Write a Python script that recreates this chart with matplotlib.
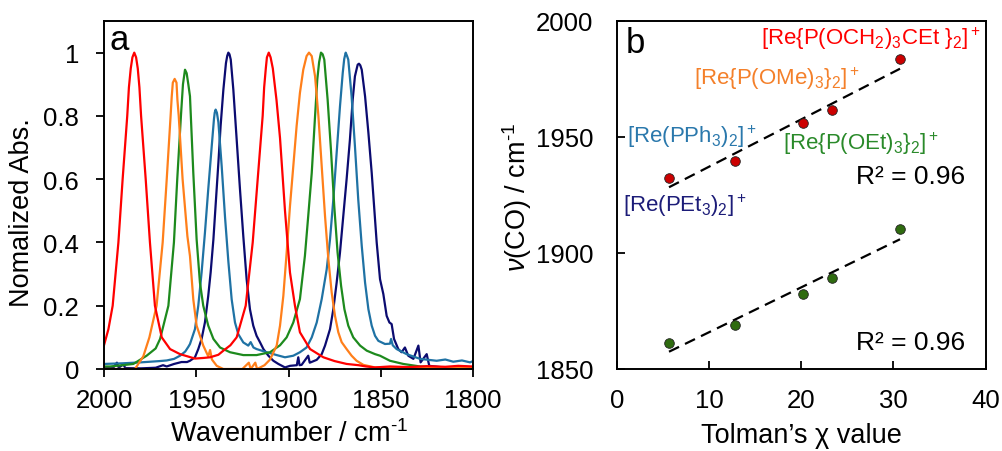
import numpy as np
import matplotlib
matplotlib.use("Agg")
import matplotlib.pyplot as plt

plt.rcParams['font.family'] = ['Liberation Sans', 'DejaVu Sans']
plt.rcParams['mathtext.fontset'] = 'custom'
plt.rcParams['mathtext.rm'] = 'Liberation Sans'
plt.rcParams['mathtext.it'] = 'Liberation Sans:italic'
plt.rcParams['mathtext.default'] = 'regular'

# ---- panel a: IR spectra ----
red_wn = [2000, 1997.6, 1995.3, 1992.2, 1989.9, 1987.4, 1986.5, 1985.5, 1984.6, 1983.6, 1982.6,
          1981.7, 1980.8, 1979.9, 1977.4, 1975.1, 1972.4, 1968.7, 1964.2, 1958.8, 1950.7, 1946,
          1942.5, 1938, 1935.3, 1931.5, 1928.1, 1923.2, 1919.4, 1916.7, 1914.0, 1913.2, 1912.3,
          1911.7, 1910.7, 1909.7, 1908.5, 1907.5, 1906.5, 1904.6, 1901.9, 1899.2, 1896.5, 1893.8,
          1888.3, 1881.1, 1875, 1868.5, 1862, 1858, 1853.1, 1845, 1835, 1825, 1815, 1808, 1800]
red_abs = [0.075, 0.126, 0.2, 0.4, 0.6, 0.8, 0.89, 0.95, 0.985, 1.0, 0.985,
           0.95, 0.89, 0.8, 0.6, 0.4, 0.2, 0.1, 0.063, 0.047, 0.033, 0.035,
           0.037, 0.045, 0.058, 0.075, 0.1, 0.2, 0.4, 0.6, 0.8, 0.89, 0.95,
           0.985, 1.0, 0.985, 0.95, 0.9, 0.85, 0.73, 0.5, 0.305, 0.2, 0.116,
           0.063, 0.037, 0.025, 0.016, 0.012, 0.008, 0.005, 0.008, 0.006, 0.009, 0.007, 0.01, 0.008]

orange_wn = [2000, 1990, 1983.2, 1978.7, 1975.4, 1971.5, 1968.2, 1966.0, 1963.9, 1963.3, 1962.7,
             1961.7, 1960.7, 1960.2, 1959.5, 1957.4, 1954.8, 1953.4, 1951.6, 1949.8, 1946.2, 1943.5,
             1942.5, 1941.5, 1938.9, 1935.3, 1925, 1921.5, 1920.5, 1918, 1917, 1913, 1910, 1906.4,
             1904.6, 1902.8, 1901, 1899.2, 1897.4, 1895.6, 1893.8, 1892, 1890.2, 1888.9, 1887.4,
             1885.6, 1883.8, 1882, 1880.2, 1878.4, 1876.6, 1874.8, 1873, 1871.2, 1868.5, 1865.8,
             1863.1, 1859.4, 1853.1, 1840, 1820, 1800]
orange_abs = [0, 0, 0, 0.04, 0.1, 0.2, 0.4, 0.6, 0.8, 0.86, 0.905,
              0.917, 0.905, 0.85, 0.8, 0.6, 0.42, 0.357, 0.22, 0.137, 0.074, 0.04,
              0.06, 0.03, 0.01, 0, 0, 0.02, 0, 0.02, 0, 0.012, 0.03, 0.074,
              0.137, 0.231, 0.368, 0.515, 0.641, 0.768, 0.873, 0.946, 0.989, 1.0, 0.989,
              0.925, 0.8, 0.641, 0.483, 0.347, 0.242, 0.168, 0.116, 0.085, 0.063, 0.042,
              0.026, 0.013, 0.005, 0.004, 0.003, 0.003]

green_wn = [2000, 1996.7, 1990, 1984.1, 1976.9, 1972, 1969.6, 1965.1, 1962.1, 1960.3, 1958.3,
            1957.2, 1956.1, 1955.2, 1954.3, 1953.4, 1951.6, 1949.8, 1948.0, 1946.2, 1943.5, 1940.7,
            1937.1, 1931.7, 1924.5, 1917.3, 1910, 1904.6, 1901, 1897.4, 1893.8, 1891.1, 1889.3,
            1887.4, 1885.6, 1884.4, 1883.4, 1882.4, 1881.5, 1880.6, 1878.8, 1877, 1875.2, 1873.4,
            1871.5, 1869.7, 1867.6, 1864.9, 1861.2, 1857.6, 1853.1, 1850.4, 1845, 1837.8, 1828.7,
            1819.7, 1800]
green_abs = [0.008, 0.008, 0.012, 0.016, 0.042, 0.065, 0.095, 0.2, 0.4, 0.6, 0.8,
             0.9, 0.946, 0.935, 0.9, 0.862, 0.62, 0.41, 0.273, 0.2, 0.137, 0.095,
             0.068, 0.053, 0.044, 0.044, 0.053, 0.075, 0.1, 0.147, 0.221, 0.358, 0.484,
             0.62, 0.8, 0.915, 0.97, 1.0, 0.995, 0.978, 0.852, 0.694, 0.515, 0.368,
             0.263, 0.189, 0.137, 0.1, 0.074, 0.058, 0.047, 0.042, 0.026, 0.016, 0.008,
             0.005, 0.004]

blue_wn = [2000, 1990, 1980, 1970, 1966, 1962, 1958.8, 1956, 1954.3, 1953.4, 1950.7, 1948.9,
           1947.1, 1945.3, 1943.5, 1941.6, 1940.4, 1940.0, 1939.5, 1938.8, 1938, 1936.2, 1934.4,
           1932.6, 1930.8, 1929, 1927.2, 1924.5, 1921.8, 1920.5, 1919, 1917.3, 1911.8, 1906.4,
           1901.9, 1897.4, 1893.8, 1890.2, 1887.4, 1884.7, 1882, 1879.3, 1877.5, 1875.7, 1873.9,
           1872.1, 1870.6, 1869.8, 1869, 1868.3, 1867.6, 1865.8, 1864, 1862.2, 1860.3, 1858.5,
           1856.7, 1854.9, 1853.1, 1851.3, 1847.7, 1845, 1844.4, 1843.5, 1841.4, 1836, 1828.7,
           1819.7, 1815, 1810.7, 1806, 1801.6, 1800]
blue_abs = [0.016, 0.018, 0.021, 0.025, 0.027, 0.032, 0.042, 0.055, 0.07, 0.079, 0.126, 0.2,
            0.305, 0.43, 0.568, 0.705, 0.79, 0.81, 0.82, 0.81, 0.78, 0.64, 0.48,
            0.34, 0.22, 0.147, 0.11, 0.084, 0.074, 0.085, 0.068, 0.063, 0.053, 0.044,
            0.037, 0.042, 0.053, 0.068, 0.1, 0.147, 0.221, 0.315, 0.41, 0.536, 0.683,
            0.83, 0.936, 0.98, 1.0, 0.99, 0.978, 0.862, 0.705, 0.536, 0.389, 0.273,
            0.189, 0.137, 0.105, 0.089, 0.079, 0.08, 0.095, 0.075, 0.063, 0.047, 0.032,
            0.026, 0.03, 0.023, 0.027, 0.021, 0.025]

navy_wn = [2000, 1995, 1993, 1992, 1989.5, 1988.5, 1980, 1972, 1968, 1966, 1962, 1958, 1955,
           1953.4, 1950.7, 1948.9, 1947.1, 1945.3, 1943.5, 1942.2, 1940.7, 1939.3, 1938, 1936.8,
           1935.3, 1933.9, 1933.2, 1932.6, 1932.0, 1931.3, 1929.9, 1928.1, 1926.3, 1924.5, 1922.7,
           1920.9, 1919.1, 1917.3, 1915.4, 1913.6, 1910.9, 1908.2, 1905.5, 1901.9, 1899.2, 1895.5,
           1894.7, 1894, 1892.9, 1889.3, 1888.5, 1888, 1884.7, 1882, 1880.2, 1877.5, 1875.7,
           1873.9, 1872.1, 1870.3, 1868.5, 1866.7, 1865.2, 1864, 1863, 1862.5, 1861.8, 1861.1,
           1860.3, 1858.5, 1856.7, 1854.9, 1853.1, 1852.2, 1850.4, 1848.6, 1846.8, 1845.3, 1844.1,
           1842.8, 1840.5, 1838.7, 1836.9, 1835.1, 1832.3, 1829.6, 1828.4, 1825.1, 1823.7, 1816.1,
           1800]
navy_abs = [0.004, 0.004, 0.02, 0.004, 0.015, 0.003, 0.002, 0.004, 0.012, 0.008, 0.016, 0.022, 0.022,
            0.026, 0.037, 0.063, 0.095, 0.147, 0.231, 0.305, 0.41, 0.536, 0.652, 0.768,
            0.883, 0.967, 0.99, 1.0, 0.995, 0.978, 0.883, 0.726, 0.568, 0.42, 0.284,
            0.189, 0.137, 0.105, 0.084, 0.063, 0.042, 0.026, 0.016, 0.005, 0.01, 0.012,
            0.037, 0.012, 0.013, 0.042, 0.02, 0.021, 0.029, 0.047, 0.074, 0.126, 0.189,
            0.273, 0.368, 0.484, 0.6, 0.726, 0.852, 0.925, 0.95, 0.962, 0.965, 0.96,
            0.946, 0.862, 0.747, 0.62, 0.473, 0.4, 0.284, 0.237, 0.168, 0.147, 0.142,
            0.095, 0.063, 0.053, 0.068, 0.042, 0.032, 0.074, 0.021, 0.047, 0.01, 0.005,
            0.005]

# ---- panel b: nu(CO) vs Tolman chi ----
chi = [5.67, 12.82, 20.23, 23.37, 30.71]
nu_high = [1932.4, 1939.6, 1956.1, 1961.5, 1983.6]
nu_low = [1861.2, 1869.0, 1882.4, 1889.1, 1910.3]

fig = plt.figure(figsize=(10.03, 4.52), dpi=100)
axa = fig.add_axes([104 / 1003, 82 / 452, 369 / 1003, 348 / 452])
axb = fig.add_axes([616.7 / 1003, 82 / 452, 369 / 1003, 348 / 452])

spectra = [(navy_wn, navy_abs, '#0b0b70'),
           (blue_wn, blue_abs, '#1f72a4'),
           (green_wn, green_abs, '#1d8a1d'),
           (orange_wn, orange_abs, '#ff7f1a'),
           (red_wn, red_abs, '#ff0000')]
for wn, ab, col in spectra:
    axa.plot(wn, ab, color=col, lw=1.6)

axa.set_xlim(2000, 1800)
axa.set_ylim(0, 1.1)
axa.set_xticks([2000, 1950, 1900, 1850, 1800])
axa.set_yticks([0, 0.2, 0.4, 0.6, 0.8, 1.0])
axa.set_yticklabels(['0', '0.2', '0.4', '0.6', '0.8', '1'])
axa.tick_params(direction='out', length=6, width=1.3, labelsize=18.5)
axa.tick_params(axis='y', pad=12)
axa.tick_params(axis='x', pad=8)
axa.set_ylabel('Nomalized Abs.', fontsize=19.5, va='center', ha='center')
axa.yaxis.set_label_coords(-0.222, 0.451)
axa.set_xlabel(r'Wavenumber / cm$^{\text{-}1}$', fontsize=19.5, va='center', ha='center')
axa.xaxis.set_label_coords(0.501, -0.184)
axa.text(0.016, 0.92, 'a', transform=axa.transAxes, fontsize=25, va='baseline', ha='left')

# trend lines
for nu, col in [(nu_high, '#cc0000'), (nu_low, '#2f6b10')]:
    k, b = np.polyfit(chi, nu, 1)
    xs = np.array([chi[0], chi[-1]])
    axb.plot(xs, k * xs + b, color='black', lw=1.6, dashes=(5, 3))
    axb.scatter(chi, nu, s=48, color=col, edgecolor='#222222', linewidth=0.6, zorder=3)

axb.set_xlim(0, 40)
axb.set_ylim(1850, 2000)
axb.set_xticks([0, 10, 20, 30, 40])
axb.set_yticks([1850, 1900, 1950, 2000])
axb.tick_params(direction='in', length=6, width=1.3, labelsize=18.5)
axb.tick_params(axis='y', pad=17)
axb.tick_params(axis='x', pad=14)
axb.set_ylabel(r'$\mathit{\nu}$(CO) / cm$^{\text{-}1}$', fontsize=19.5, va='center', ha='center')
axb.yaxis.set_label_coords(-0.270, 0.497)
axb.set_xlabel('Tolman\u2019s \u03c7 value', fontsize=19.5, va='center', ha='center')
axb.xaxis.set_label_coords(0.501, -0.19)
axb.text(0.025, 0.91, 'b', transform=axb.transAxes, fontsize=25, va='baseline', ha='left')

labels = [(0.689, 0.952, r'[Re{P(OCH$_2$)$_3$CEt }$_2$]$^+$', '#ff0000'),
          (0.435, 0.838, r'[Re{P(OMe)$_3$}$_2$]$^+$', '#f4802a'),
          (0.204, 0.671, r'[Re(PPh$_3$)$_2$]$^+$', '#2a78ac'),
          (0.662, 0.651, r'[Re{P(OEt)$_3$}$_2$]$^+$', '#2a8a2a'),
          (0.185, 0.471, r'[Re(PEt$_3$)$_2$]$^+$', '#1c1c78')]
for x, y, s, col in labels:
    axb.text(x, y, s, color=col, fontsize=16, transform=axb.transAxes, ha='center', va='center')
axb.text(0.796, 0.555, 'R\u00b2 = 0.96', fontsize=19, transform=axb.transAxes, ha='center', va='center')
axb.text(0.796, 0.078, 'R\u00b2 = 0.96', fontsize=19, transform=axb.transAxes, ha='center', va='center')

for ax in (axa, axb):
    for sp in ax.spines.values():
        sp.set_linewidth(1.4)

fig.savefig('out.png', dpi=100)
